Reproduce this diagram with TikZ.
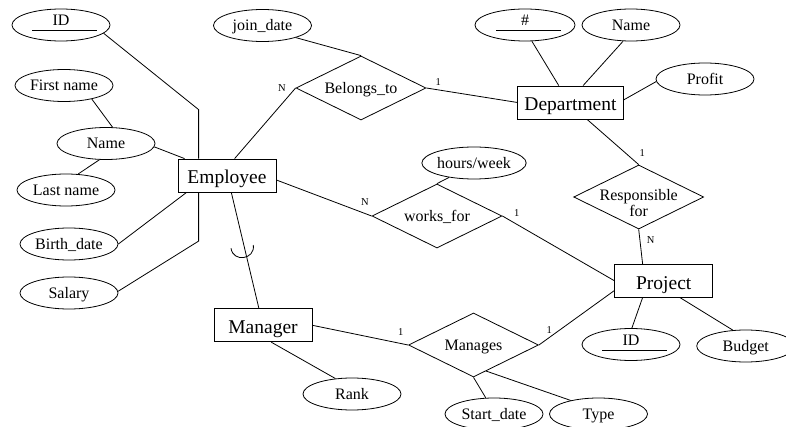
\documentclass[tikz,border=0pt]{standalone}
\usepackage{fontspec}
\setmainfont{Liberation Serif}
\usetikzlibrary{shapes.geometric,calc}
\newcommand\keytext[1]{\makebox[0pt]{\raisebox{4.5pt}{#1}}\makebox[0pt]{\hspace{7pt}\rule[-0.4pt]{65pt}{0.8pt}}}
\tikzset{
  conn/.style={line width=0.8pt},
  ent/.style={draw, rectangle, line width=0.8pt, minimum width=98pt, minimum height=33pt,
    inner xsep=6.6pt, inner ysep=0pt, font=\fontsize{19.5}{22}\selectfont,
    text height=16.9pt, text depth=0pt},
  attr/.style={draw, ellipse, line width=0.8pt, minimum width=98pt, minimum height=32pt,
    inner sep=0pt, font=\fontsize{16}{18}\selectfont, text height=11pt, text depth=0pt},
  rel/.style={draw, diamond, line width=0.8pt, minimum width=130pt, minimum height=64pt,
    inner sep=0pt, font=\fontsize{16}{15}\selectfont, text height=11pt, text depth=0pt},
  card/.style={inner sep=0pt, font=\fontsize{10.5}{12}\selectfont, text height=6.9pt, text depth=0pt},
}
\begin{document}
\begin{tikzpicture}[x=1pt,y=-1pt]
\useasboundingbox (0,0) rectangle (786,427);
% entities
\node[ent] (emp)  at (227,175.5) {Employee};
\node[ent] (dept) at (570.5,102.5) {Department};
\node[ent] (proj) at (663.7,280.7) {Project};
\node[ent] (mgr)  at (263,325.3) {Manager};
% relationships
\node[rel] (bel)   at (361,88)    {\makebox[0pt]{Belongs\_to}};
\node[rel] (works) at (437,216)   {\makebox[0pt]{works\_for}};
\node[rel] (resp)  at (638.7,197) {\makebox[0pt]{\raisebox{1.8pt}{\begin{tabular}[t]{@{}c@{}}Responsible\\for\end{tabular}}}};
\node[rel] (mng)   at (473.5,345) {\makebox[0pt]{Manages}};
% attributes
\node[attr] (eid)    at (61,25)     {\keytext{ID}};
\node[attr] (fname)  at (64,85.5)   {First name};
\node[attr] (ename)  at (106,143.5) {Name};
\node[attr] (lname)  at (66,190)    {Last name};
\node[attr] (bdate)  at (69,244)    {Birth\_date};
\node[attr] (salary) at (69,293)    {Salary};
\node[attr] (jdate)  at (262.5,25.5) {join\_date};
\node[attr, minimum width=100pt] (dnum) at (525,25) {\keytext{\#}};
\node[attr] (dname)  at (631,25)    {Name};
\node[attr] (profit) at (705,79)    {Profit};
\node[attr] (hours)  at (474,163)   {hours/week};
\node[attr] (pid)    at (631,344.5) {\keytext{ID}};
\node[attr] (budget) at (745.7,346) {Budget};
\node[attr] (rank)   at (352,394)   {Rank};
\node[attr] (start)  at (494,414)   {Start\_date};
\node[attr] (type)   at (598.5,414) {Type};
% connectors
\draw[conn] (eid.-11) -- ($(emp.north west)+(21,-49)$) -- ($(emp.north west)+(21,0)$);
\draw[conn] (fname.-26) -- (ename.68);
\draw[conn] (ename.-4) -- ($(emp.north west)+(7,0)$);
\draw[conn] (lname.53) -- (ename.-112);
\draw[conn] (bdate.0) -- ($(emp.south west)+(9,0)$);
\draw[conn] (salary.2) -- ($(emp.south west)+(21,48.7)$) -- ($(emp.south west)+(21,0)$);
\draw[conn] ($(emp.north west)+(57,0)$) -- (bel.west);
\draw[conn] (jdate.-20) -- (bel.north);
\draw[conn] (bel.east) -- (dept.west);
\draw[conn] (dnum.-67) -- ($(dept.north west)+(41.3,0)$);
\draw[conn] (dname.-116) -- ($(dept.north west)+(65.6,0)$);
\draw[conn] (profit.-177) -- ($(dept.east)+(0,-2.5)$);
\draw[conn] ($(dept.south west)+(69.6,0)$) -- (resp.north);
\draw[conn] (resp.south) -- ($(proj.north west)+(28.3,0)$);
\draw[conn] ($(emp.east)+(0,4.5)$) -- (works.west);
\draw[conn] (hours.-150) -- (works.north);
\draw[conn] (works.east) -- (proj.west);
\draw[conn] ($(emp.south west)+(53.7,0)$) -- ($(mgr.north west)+(45.3,0)$);
\draw[conn] (mgr.east) -- (mng.west);
\draw[conn] ($(mgr.south west)+(57.7,0)$) -- (rank.137);
\draw[conn] (mng.east) -- ($(proj.south west)+(0,-7)$);
\draw[conn] (mng.south) -- (start.117);
\draw[conn] (mng.-64) -- (type.154);
\draw[conn] ($(proj.south west)+(28.3,0)$) -- (pid.87);
\draw[conn] ($(proj.south west)+(65.7,0)$) -- (budget.129);
% subset arc
\draw[conn] (231,248.3) .. controls (233.1,262.8) and (255.4,259.5) .. (253.3,245);
% cardinalities
\node[card] (c1) at (282,88.3)    {N};
\node[card] (c2) at (438.3,82)    {1};
\node[card] (c3) at (642.3,153.3) {1};
\node[card] (c4) at (650.7,239.7) {N};
\node[card] (c5) at (365,202.3)   {N};
\node[card] (c6) at (516.7,212.7) {1};
\node[card] (c7) at (400.7,332.5) {1};
\node[card] (c8) at (549.3,329.7) {1};
\end{tikzpicture}
\end{document}
